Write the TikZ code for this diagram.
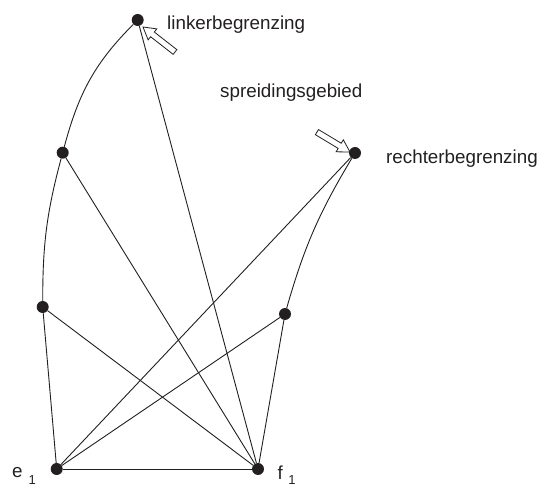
\documentclass[tikz,border=0pt]{standalone}
\usepackage{fontspec}
\setmainfont{Liberation Sans}
\definecolor{ink}{HTML}{231F20}
\begin{document}
\begin{tikzpicture}[x=1pt,y=1pt,
  dot/.style={circle, fill=ink, inner sep=0pt, minimum size=12pt},
  edge/.style={draw=ink, line width=0.9pt},
  lbl/.style={inner sep=0pt, anchor=base west, font=\fontsize{18.8}{18.8}\selectfont, text=ink},
  hollow/.style={draw=ink, fill=white, line width=0.8pt, line join=miter}]
\useasboundingbox (0,0) rectangle (547,488);
% points
\node[dot] (top) at (137.7,468) {};
\node[dot] (p2) at (62.7,335.3) {};
\node[dot] (p3) at (42.7,181) {};
\node[dot] (e1) at (56.7,19) {};
\node[dot] (f1) at (258,19) {};
\node[dot] (rt) at (355,335) {};
\node[dot] (p4) at (285,174) {};
% boundaries
\draw[edge] (top) to[out=225,in=75] (p2) to[out=255,in=90] (p3) -- (e1);
\draw[edge] (rt) to[out=239,in=74] (p4) -- (f1);
% connectors
\draw[edge] (e1) -- (f1);
\draw[edge] (e1) -- (p4);
\draw[edge] (e1) -- (rt);
\draw[edge] (f1) -- (p3);
\draw[edge] (f1) -- (p2);
\draw[edge] (f1) -- (top);
% hollow arrows
\begin{scope}[shift={(143,461)}, rotate=142]
\draw[hollow] (0,0) -- (-12,7) -- (-12,3) -- (-40.6,3) -- (-40.6,-3) -- (-12,-3) -- (-12,-7) -- cycle;
\end{scope}
\begin{scope}[shift={(350,336)}, rotate=-31]
\draw[hollow] (0,0) -- (-12,7) -- (-12,3) -- (-38.6,3) -- (-38.6,-3) -- (-12,-3) -- (-12,-7) -- cycle;
\end{scope}
% labels
\node[lbl] (l1) at (167,458) {linkerbegrenzing};
\node[lbl] (l2) at (220,390) {spreidingsgebied};
\node[lbl] (l3) at (386,324) {rechterbegrenzing};
\node[lbl] (le) at (12,10) {e\hspace{6pt}\raisebox{-7pt}{\fontsize{13}{13}\selectfont 1}};
\node[lbl] (lf) at (277.5,9) {f\hspace{5.5pt}\raisebox{-6pt}{\fontsize{13}{13}\selectfont 1}};
\end{tikzpicture}
\end{document}
